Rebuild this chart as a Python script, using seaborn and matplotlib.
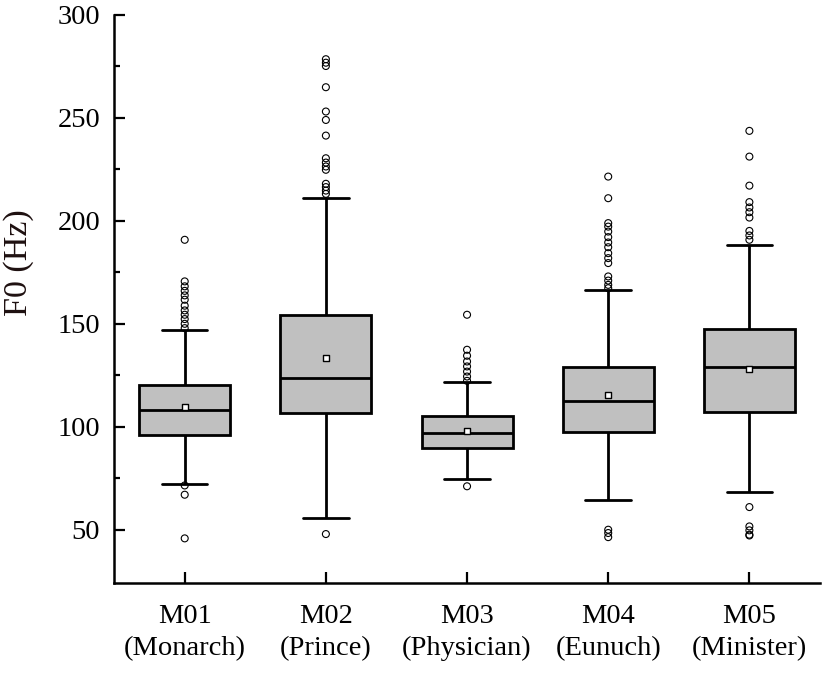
import pandas as pd
import matplotlib
matplotlib.use('Agg')
import matplotlib.pyplot as plt
from matplotlib.ticker import MultipleLocator, FixedLocator
import seaborn as sns

# Speakers on the x axis
speakers = ['M01\n(Monarch)', 'M02\n(Prince)', 'M03\n(Physician)', 'M04\n(Eunuch)', 'M05\n(Minister)']

# Box statistics (Hz)
whisker_low = [72.2, 55.8, 74.8, 64.6, 68.3]
q1 = [96.1, 106.7, 89.7, 97.4, 107.0]
median = [107.9, 123.8, 96.9, 112.6, 128.8]
q3 = [120.2, 154.4, 105.3, 129.0, 147.4]
whisker_high = [146.8, 211.0, 121.8, 166.5, 188.3]
mean_f0 = [109.4, 133.3, 98.0, 115.2, 128.0]

# Outliers per speaker
outliers_m01 = [45.8, 67.0, 71.5, 147.9, 150.0, 152.3, 154.4, 156.5, 158.8, 161.7,
                163.8, 166.0, 168.2, 170.6, 190.8]
outliers_m02 = [47.9, 213.1, 214.7, 216.4, 218.0, 224.8, 226.4, 228.3, 230.4, 241.4,
                249.0, 253.1, 264.9, 275.2, 276.8, 278.5]
outliers_m03 = [71.1, 122.3, 124.4, 126.8, 129.3, 131.7, 134.5, 137.4, 154.4]
outliers_m04 = [46.4, 48.4, 50.0, 167.3, 168.9, 171.0, 173.0, 179.5, 181.9, 184.3,
                187.2, 189.5, 192.1, 194.8, 197.2, 198.9, 211.0, 221.5]
outliers_m05 = [47.2, 47.6, 49.7, 51.6, 61.0, 190.8, 192.9, 195.1, 201.6, 204.2,
                206.5, 209.1, 217.1, 231.2, 243.7]
outliers = [outliers_m01, outliers_m02, outliers_m03, outliers_m04, outliers_m05]

# Five values per speaker reproduce the box exactly (whis=(0, 100))
box_rows = []
for i, spk in enumerate(speakers):
    for v in (whisker_low[i], q1[i], median[i], q3[i], whisker_high[i]):
        box_rows.append({'speaker': spk, 'F0': v})
df_box = pd.DataFrame(box_rows)

df_out = pd.DataFrame([{'speaker': spk, 'F0': v}
                       for spk, vals in zip(speakers, outliers) for v in vals])
df_mean = pd.DataFrame({'speaker': speakers, 'F0': mean_f0})

sns.set_style('ticks')
plt.rcParams['font.family'] = ['Liberation Serif', 'DejaVu Serif']

fig, ax = plt.subplots(figsize=(8.27, 6.79), dpi=100)
fig.subplots_adjust(left=0.138, right=0.9915, top=0.978, bottom=0.141)

sns.boxplot(data=df_box, x='speaker', y='F0', order=speakers, whis=(0, 100),
            color='#c0c0c0', saturation=1, linecolor='black', linewidth=2.0,
            width=0.645, showfliers=False, ax=ax)

sns.stripplot(data=df_out, x='speaker', y='F0', order=speakers, jitter=False,
              color='black', facecolor='none', edgecolor='black', linewidth=0.8,
              size=5.0, marker='o', ax=ax)

sns.stripplot(data=df_mean, x='speaker', y='F0', order=speakers, jitter=False,
              color='white', edgecolor='black', linewidth=1.0, size=5.0,
              marker='s', ax=ax)

ax.set_xlim(-0.5, 4.5)
ax.set_ylim(24, 300)
ax.yaxis.set_major_locator(MultipleLocator(50))
ax.yaxis.set_minor_locator(FixedLocator([75, 125, 175, 225, 275]))

ax.set_xlabel('')
ax.set_ylabel('F0 (Hz)', fontsize=24.5, color='#1e1010')
ax.yaxis.set_label_coords(-0.113, 0.565)

sns.despine(ax=ax)
for side in ('left', 'bottom'):
    ax.spines[side].set_linewidth(1.8)
    ax.spines[side].set_color('black')

ax.tick_params(axis='both', which='major', direction='in', length=8, width=1.6,
               color='black', labelsize=20.5, labelcolor='black', pad=10)
ax.tick_params(axis='y', which='minor', direction='in', length=4, width=1.6, color='black')
ax.tick_params(axis='x', which='major', pad=15)
for lab in ax.get_xticklabels():
    lab.set_linespacing(1.35)

plt.savefig('out.png', dpi=100)
